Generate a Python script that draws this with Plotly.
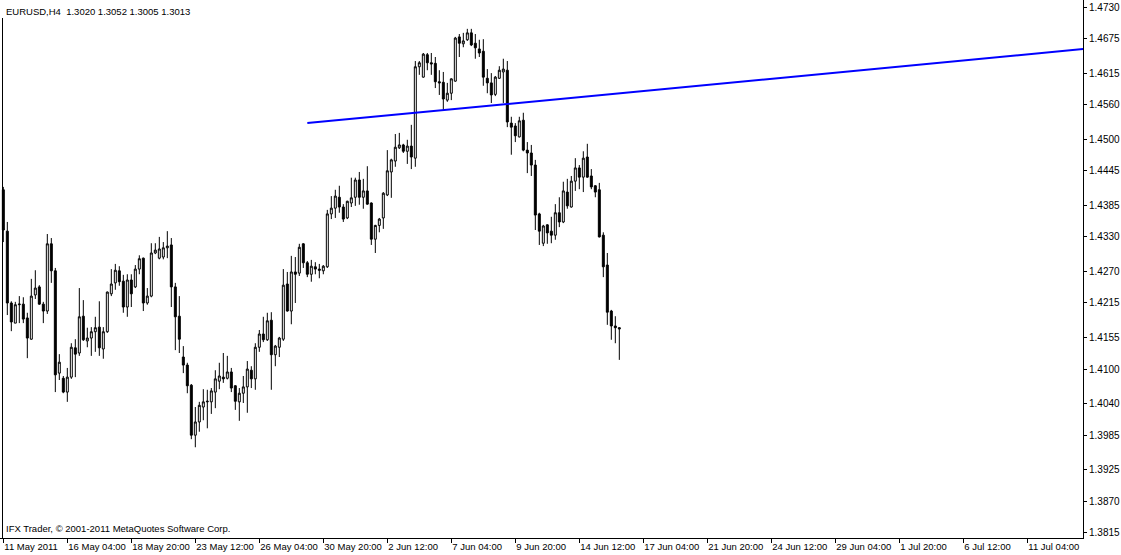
import plotly.graph_objects as go

# ---- data (EURUSD H4, bar index 0 = 11 May 2011) ----
opens = [
    1.4412, 1.4340, 1.4215, 1.4180, 1.4212, 1.4213, 1.4189, 1.4152, 1.4229, 1.4243,
    1.4213, 1.4201, 1.4318, 1.4271, 1.4093, 1.4084, 1.4060, 1.4086, 1.4137, 1.4128,
    1.4192, 1.4149, 1.4154, 1.4165, 1.4173, 1.4135, 1.4165, 1.4231, 1.4250, 1.4271,
    1.4253, 1.4208, 1.4255, 1.4243, 1.4274, 1.4293, 1.4215, 1.4227, 1.4302, 1.4293,
    1.4295, 1.4311, 1.4316, 1.4243, 1.4192, 1.4121, 1.4107, 1.4072, 1.3985, 1.4008,
    1.4034, 1.4043, 1.4043, 1.4060, 1.4079, 1.4086, 1.4084, 1.4095, 1.4071, 1.4043,
    1.4058, 1.4069, 1.4098, 1.4083, 1.4138, 1.4161, 1.4151, 1.4185, 1.4125, 1.4138,
    1.4152, 1.4248, 1.4201, 1.4269, 1.4267, 1.4318, 1.4285, 1.4265, 1.4278, 1.4274,
    1.4271, 1.4278, 1.4370, 1.4380, 1.4399, 1.4382, 1.4363, 1.4389, 1.4399, 1.4429,
    1.4399, 1.4410, 1.4389, 1.4326, 1.4350, 1.4363, 1.4403, 1.4443, 1.4462, 1.4485,
    1.4490, 1.4479, 1.4488, 1.4467, 1.4626, 1.4608, 1.4647, 1.4633, 1.4632, 1.4600,
    1.4599, 1.4568, 1.4580, 1.4601, 1.4678, 1.4666, 1.4673, 1.4685, 1.4667, 1.4657,
    1.4653, 1.4606, 1.4598, 1.4578, 1.4606, 1.4617, 1.4620, 1.4528, 1.4523, 1.4504,
    1.4533, 1.4481, 1.4476, 1.4455, 1.4370, 1.4319, 1.4351, 1.4340, 1.4333, 1.4372,
    1.4356, 1.4408, 1.4382, 1.4427, 1.4450, 1.4434, 1.4469, 1.4436, 1.4419, 1.4412,
    1.4333, 1.4281, 1.4201, 1.4175, 1.4172,
]
highs = [
    1.4417, 1.4356, 1.4218, 1.4217, 1.4227, 1.4225, 1.4198, 1.4257, 1.4272, 1.4246,
    1.4217, 1.4335, 1.4328, 1.4276, 1.4126, 1.4088, 1.4102, 1.4145, 1.4152, 1.4241,
    1.4220, 1.4172, 1.4173, 1.4191, 1.4218, 1.4173, 1.4235, 1.4274, 1.4283, 1.4279,
    1.4264, 1.4265, 1.4265, 1.4281, 1.4298, 1.4294, 1.4241, 1.4319, 1.4319, 1.4330,
    1.4321, 1.4340, 1.4328, 1.4250, 1.4227, 1.4140, 1.4111, 1.4074, 1.4034, 1.4043,
    1.4065, 1.4064, 1.4067, 1.4098, 1.4111, 1.4128, 1.4123, 1.4102, 1.4072, 1.4067,
    1.4088, 1.4114, 1.4105, 1.4145, 1.4168, 1.4191, 1.4198, 1.4199, 1.4142, 1.4156,
    1.4274, 1.4269, 1.4297, 1.4295, 1.4318, 1.4319, 1.4288, 1.4290, 1.4286, 1.4283,
    1.4281, 1.4377, 1.4401, 1.4412, 1.4419, 1.4387, 1.4393, 1.4433, 1.4433, 1.4443,
    1.4431, 1.4453, 1.4390, 1.4351, 1.4363, 1.4408, 1.4481, 1.4466, 1.4509, 1.4511,
    1.4492, 1.4499, 1.4525, 1.4636, 1.4636, 1.4650, 1.4650, 1.4650, 1.4643, 1.4620,
    1.4617, 1.4598, 1.4606, 1.4678, 1.4683, 1.4685, 1.4692, 1.4692, 1.4683, 1.4673,
    1.4674, 1.4622, 1.4615, 1.4610, 1.4627, 1.4640, 1.4636, 1.4539, 1.4528, 1.4539,
    1.4546, 1.4495, 1.4490, 1.4464, 1.4372, 1.4351, 1.4352, 1.4365, 1.4387, 1.4399,
    1.4426, 1.4431, 1.4436, 1.4467, 1.4455, 1.4479, 1.4492, 1.4448, 1.4420, 1.4424,
    1.4338, 1.4302, 1.4203, 1.4192, 1.4173,
]
lows = [
    1.4321, 1.4194, 1.4166, 1.4180, 1.4180, 1.4180, 1.4119, 1.4151, 1.4222, 1.4212,
    1.4180, 1.4196, 1.4250, 1.4060, 1.4081, 1.4058, 1.4043, 1.4083, 1.4086, 1.4123,
    1.4149, 1.4138, 1.4123, 1.4130, 1.4123, 1.4118, 1.4163, 1.4227, 1.4238, 1.4245,
    1.4198, 1.4191, 1.4208, 1.4241, 1.4265, 1.4201, 1.4212, 1.4225, 1.4300, 1.4291,
    1.4291, 1.4293, 1.4208, 1.4133, 1.4128, 1.4093, 1.4058, 1.3978, 1.3964, 1.3991,
    1.4011, 1.3997, 1.4022, 1.4032, 1.4065, 1.4076, 1.4082, 1.4060, 1.4029, 1.4010,
    1.4041, 1.4024, 1.4067, 1.4064, 1.4130, 1.4147, 1.4149, 1.4064, 1.4105, 1.4121,
    1.4149, 1.4200, 1.4178, 1.4215, 1.4262, 1.4276, 1.4260, 1.4252, 1.4265, 1.4258,
    1.4265, 1.4276, 1.4361, 1.4363, 1.4372, 1.4356, 1.4361, 1.4382, 1.4384, 1.4386,
    1.4379, 1.4386, 1.4316, 1.4302, 1.4338, 1.4344, 1.4401, 1.4398, 1.4452, 1.4483,
    1.4476, 1.4457, 1.4448, 1.4452, 1.4612, 1.4607, 1.4620, 1.4612, 1.4589, 1.4577,
    1.4551, 1.4565, 1.4568, 1.4600, 1.4643, 1.4660, 1.4671, 1.4662, 1.4640, 1.4643,
    1.4593, 1.4580, 1.4563, 1.4575, 1.4605, 1.4563, 1.4521, 1.4473, 1.4495, 1.4503,
    1.4479, 1.4441, 1.4436, 1.4342, 1.4316, 1.4314, 1.4318, 1.4319, 1.4325, 1.4347,
    1.4354, 1.4379, 1.4381, 1.4410, 1.4413, 1.4408, 1.4433, 1.4413, 1.4399, 1.4329,
    1.4260, 1.4177, 1.4151, 1.4145, 1.4116,
]
closes = [
    1.4342, 1.4215, 1.4182, 1.4212, 1.4213, 1.4187, 1.4154, 1.4227, 1.4241, 1.4213,
    1.4201, 1.4318, 1.4271, 1.4090, 1.4112, 1.4060, 1.4086, 1.4138, 1.4126, 1.4191,
    1.4151, 1.4154, 1.4165, 1.4172, 1.4137, 1.4165, 1.4234, 1.4248, 1.4272, 1.4252,
    1.4208, 1.4255, 1.4231, 1.4274, 1.4292, 1.4215, 1.4227, 1.4302, 1.4307, 1.4309,
    1.4311, 1.4314, 1.4243, 1.4191, 1.4152, 1.4107, 1.4071, 1.3985, 1.4008, 1.4037,
    1.4043, 1.4044, 1.4062, 1.4083, 1.4088, 1.4083, 1.4095, 1.4067, 1.4044, 1.4058,
    1.4069, 1.4100, 1.4083, 1.4138, 1.4161, 1.4151, 1.4184, 1.4125, 1.4140, 1.4154,
    1.4246, 1.4201, 1.4269, 1.4265, 1.4312, 1.4285, 1.4265, 1.4279, 1.4274, 1.4272,
    1.4279, 1.4370, 1.4380, 1.4401, 1.4382, 1.4361, 1.4392, 1.4398, 1.4429, 1.4399,
    1.4410, 1.4387, 1.4326, 1.4350, 1.4361, 1.4406, 1.4445, 1.4464, 1.4486, 1.4490,
    1.4479, 1.4488, 1.4469, 1.4626, 1.4633, 1.4648, 1.4633, 1.4631, 1.4600, 1.4598,
    1.4570, 1.4580, 1.4605, 1.4676, 1.4667, 1.4671, 1.4685, 1.4664, 1.4659, 1.4650,
    1.4608, 1.4598, 1.4577, 1.4608, 1.4620, 1.4622, 1.4530, 1.4521, 1.4506, 1.4532,
    1.4481, 1.4476, 1.4455, 1.4368, 1.4340, 1.4349, 1.4337, 1.4333, 1.4372, 1.4356,
    1.4410, 1.4384, 1.4427, 1.4450, 1.4434, 1.4467, 1.4434, 1.4417, 1.4408, 1.4330,
    1.4278, 1.4199, 1.4175, 1.4172, 1.4170,
]

# time-axis labels, one every 16 H4 bars
time_labels = [
    "11 May 2011", "16 May 04:00", "18 May 20:00", "23 May 12:00", "26 May 04:00",
    "30 May 20:00", "2 Jun 12:00", "7 Jun 04:00", "9 Jun 20:00", "14 Jun 12:00",
    "17 Jun 04:00", "21 Jun 20:00", "24 Jun 12:00", "29 Jun 04:00", "1 Jul 20:00",
    "6 Jul 12:00", "11 Jul 04:00",
]
bars_per_label = 16

# price-axis labels
price_ticks = [1.4730, 1.4675, 1.4615, 1.4560, 1.4500, 1.4445, 1.4385, 1.4330,
               1.4270, 1.4215, 1.4155, 1.4100, 1.4040, 1.3985, 1.3925, 1.3870, 1.3815]

# blue trend line (bar index, price)
trend_x = [76, 270]
trend_y = [1.4528, 1.4657]

header_text = "EURUSD,H4  1.3020 1.3052 1.3005 1.3013"
footer_text = "IFX Trader, \u00a9 2001-2011 MetaQuotes Software Corp."

# ---- figure ----
bar_idx = list(range(len(opens)))
tick_idx = [k * bars_per_label for k in range(len(time_labels))]
FONT = dict(family="Liberation Sans, Arial, sans-serif", size=10, color="black")
SMALL = dict(family="Liberation Sans, Arial, sans-serif", size=9.5, color="black")

fig = go.Figure()
fig.add_trace(go.Candlestick(
    x=bar_idx, open=opens, high=highs, low=lows, close=closes,
    increasing=dict(fillcolor="white", line=dict(color="black", width=1)),
    decreasing=dict(fillcolor="black", line=dict(color="black", width=1)),
    whiskerwidth=0, showlegend=False, hoverinfo="skip",
))
fig.add_trace(go.Scatter(
    x=trend_x, y=trend_y, mode="lines",
    line=dict(color="#0000ff", width=2), showlegend=False, hoverinfo="skip",
))

fig.update_layout(
    width=1121, height=555,
    margin=dict(l=0, r=38, t=0, b=17, pad=0, autoexpand=False),
    paper_bgcolor="white", plot_bgcolor="white",
    font=FONT,
    xaxis=dict(
        range=[-0.83, 269.92], showgrid=False, zeroline=False,
        rangeslider=dict(visible=False), automargin=False,
        showline=True, linecolor="black", linewidth=1,
        ticks="outside", ticklen=4, tickcolor="black", tickwidth=1,
        tickvals=tick_idx, ticktext=time_labels, tickangle=0,
        ticklabelposition="outside right",
        tickfont=SMALL, fixedrange=True,
    ),
    yaxis=dict(
        side="right", range=[1.38061, 1.47422], automargin=False,
        showgrid=False, zeroline=False,
        showline=True, linecolor="black", linewidth=1,
        ticks="outside", ticklen=3, tickcolor="black", tickwidth=1,
        tickvals=price_ticks, ticktext=[f"{v:.4f}" for v in price_ticks],
        tickfont=FONT, fixedrange=True,
    ),
    annotations=[
        dict(text=header_text, xref="paper", yref="paper", x=0, y=1,
             xanchor="left", yanchor="top", xshift=4, yshift=-4,
             showarrow=False, font=SMALL),
        dict(text=footer_text, xref="paper", yref="paper", x=0, y=0,
             xanchor="left", yanchor="bottom", xshift=4, yshift=2,
             showarrow=False, font=SMALL),
    ],
    shapes=[
        dict(type="line", xref="paper", yref="paper",
             x0=2.5 / 1083, x1=2.5 / 1083, y0=0, y1=(538 - 18) / 538,
             line=dict(color="black", width=1)),
    ],
)

fig.write_html(
    "out.html",
    config=dict(displayModeBar=False, staticPlot=True),
    post_script="document.body.style.margin='0';document.body.style.overflow='hidden';",
)
